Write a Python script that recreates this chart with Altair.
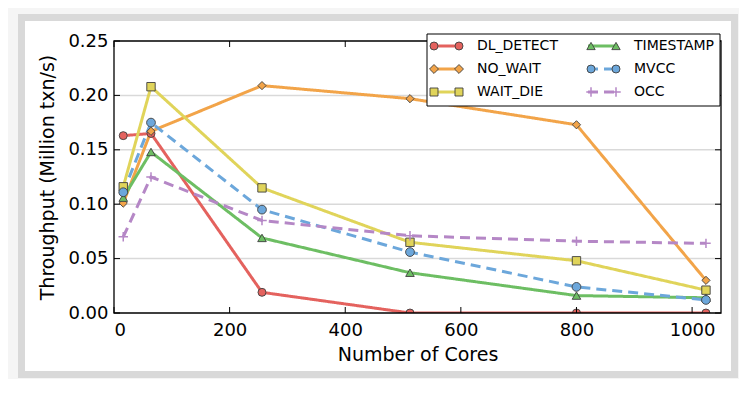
import altair as alt
import pandas as pd

# ---------------- data ----------------
cores = [16, 64, 256, 512, 800, 1024]
series_names = ["DL_DETECT", "NO_WAIT", "WAIT_DIE", "TIMESTAMP", "MVCC", "OCC"]
dl_detect = [0.163, 0.165, 0.019, 0.0, 0.0, 0.0]
no_wait = [0.101, 0.167, 0.209, 0.197, 0.173, 0.030]
wait_die = [0.116, 0.208, 0.115, 0.065, 0.048, 0.021]
timestamp = [0.106, 0.148, 0.069, 0.037, 0.016, 0.014]
mvcc = [0.111, 0.175, 0.095, 0.056, 0.024, 0.012]
occ = [0.070, 0.125, 0.085, 0.071, 0.066, 0.064]
x_ticks = [0, 200, 400, 600, 800, 1000]
y_ticks = [0.0, 0.05, 0.10, 0.15, 0.20, 0.25]
grid_vals = [0.05, 0.10, 0.15, 0.20]

# ---------------- styles ----------------
colors = ["#E4625E", "#F2A449", "#E0D45A", "#6DBE63", "#6CA7DB", "#B587C6"]
PLUS = "M-1,0L1,0M0,-1L0,1"
shapes = ["circle", "diamond", "square", "triangle-up", "circle", PLUS]
sizes = [64, 80, 64, 70, 64, 90]
dashes = [[1, 0], [1, 0], [1, 0], [1, 0], [10, 6], [10, 6]]
EDGE = "#404040"
FONT = "DejaVu Sans"

W, H = 607, 272

values = [dl_detect, no_wait, wait_die, timestamp, mvcc, occ]
rows = []
for name, vals in zip(series_names, values):
    for c, v in zip(cores, vals):
        rows.append({"series": name, "cores": c, "tput": v})
df = pd.DataFrame(rows)

xs = alt.Scale(domain=[0, 1050], nice=False, zero=False)
ys = alt.Scale(domain=[0, 0.25], nice=False, zero=False)
x_axis = alt.Axis(values=x_ticks, title="Number of Cores", format="d",
                  labelPadding=8, titlePadding=6, ticks=False, tickSize=0,
                  domain=False, grid=False, zindex=2)
y_axis = alt.Axis(values=y_ticks, title="Throughput (Million txn/s)", format=".2f",
                  labelPadding=6, titlePadding=10, ticks=False, tickSize=0,
                  domain=False, grid=False, zindex=2)

one = pd.DataFrame({"a": [0]})

# frame (decoration)
frame = alt.Chart(one).mark_rect(fill="white", stroke="#d9d9d9", strokeWidth=7).encode(
    x=alt.value(-92.5), x2=alt.value(620.5), y=alt.value(-23.5), y2=alt.value(333.5)
)

grid = alt.Chart(pd.DataFrame({"v": grid_vals})).mark_rule(
    color="#d9d9d9", strokeWidth=1.5
).encode(y=alt.Y("v:Q", scale=ys, axis=y_axis))

color_scale = alt.Scale(domain=series_names, range=colors)

lines = alt.Chart(df).mark_line(strokeWidth=3, clip=True).encode(
    x=alt.X("cores:Q", scale=xs, axis=x_axis),
    y=alt.Y("tput:Q", scale=ys, axis=y_axis),
    color=alt.Color("series:N", scale=color_scale, legend=None),
    strokeDash=alt.StrokeDash("series:N", scale=alt.Scale(domain=series_names, range=dashes), legend=None),
)

pts = alt.Chart(df[df.series != "OCC"]).mark_point(
    filled=True, stroke=EDGE, strokeWidth=0.9, opacity=1, clip=True
).encode(
    x=alt.X("cores:Q", scale=xs, axis=x_axis),
    y=alt.Y("tput:Q", scale=ys, axis=y_axis),
    fill=alt.Fill("series:N", scale=color_scale, legend=None),
    shape=alt.Shape("series:N", scale=alt.Scale(domain=series_names, range=shapes), legend=None),
    size=alt.Size("series:N", scale=alt.Scale(domain=series_names, range=sizes), legend=None),
)

occ_pts = alt.Chart(df[df.series == "OCC"]).mark_point(
    shape=PLUS, filled=False, color=colors[5], strokeWidth=1.5, size=90, opacity=1, clip=True
).encode(
    x=alt.X("cores:Q", scale=xs, axis=x_axis),
    y=alt.Y("tput:Q", scale=ys, axis=y_axis),
)

# inward ticks on all four sides
xt = pd.DataFrame({"v": x_ticks})
yt = pd.DataFrame({"v": y_ticks})
tick_style = dict(color="black", strokeWidth=1)
tb = alt.Chart(xt).mark_rule(**tick_style).encode(
    x=alt.X("v:Q", scale=xs, axis=x_axis), y=alt.value(H), y2=alt.value(H - 6))
tt = alt.Chart(xt).mark_rule(**tick_style).encode(
    x=alt.X("v:Q", scale=xs, axis=x_axis), y=alt.value(0), y2=alt.value(6))
tl = alt.Chart(yt).mark_rule(**tick_style).encode(
    y=alt.Y("v:Q", scale=ys, axis=y_axis), x=alt.value(0), x2=alt.value(6))
tr = alt.Chart(yt).mark_rule(**tick_style).encode(
    y=alt.Y("v:Q", scale=ys, axis=y_axis), x=alt.value(W), x2=alt.value(W - 6))

# spines
spine = alt.Chart(one).mark_rect(fill="transparent", stroke="black", strokeWidth=1.3).encode(
    x=alt.value(0), x2=alt.value(W), y=alt.value(0), y2=alt.value(H))

# manual legend (matplotlib style: line with two markers)
legend_layers = [
    alt.Chart(one).mark_rect(fill="white", stroke="black", strokeWidth=1).encode(
        x=alt.value(313), x2=alt.value(606), y=alt.value(-7), y2=alt.value(65))
]
for i, name in enumerate(series_names):
    col, row = i // 3, i % 3
    ly = 5 + row * 23
    lx0 = 317 + col * 157
    lx1 = lx0 + 30
    legend_layers.append(
        alt.Chart(one).mark_rule(color=colors[i], strokeWidth=3, strokeDash=dashes[i]).encode(
            x=alt.value(lx0), x2=alt.value(lx1), y=alt.value(ly)))
    for mx in (lx0 + 3, lx1 - 2):
        if shapes[i] == PLUS:
            mk = alt.Chart(one).mark_point(shape=PLUS, filled=False, color=colors[i],
                                           strokeWidth=1.5, size=sizes[i], opacity=1)
        else:
            mk = alt.Chart(one).mark_point(shape=shapes[i], filled=True, fill=colors[i],
                                           stroke=EDGE, strokeWidth=0.9, size=sizes[i], opacity=1)
        legend_layers.append(mk.encode(x=alt.value(mx), y=alt.value(ly)))
    legend_layers.append(
        alt.Chart(one).mark_text(align="left", baseline="middle", font=FONT, fontSize=14,
                                 color="black").encode(
            x=alt.value(lx1 + 16), y=alt.value(ly), text=alt.value(name)))

chart = alt.layer(
    frame, grid, lines, pts, occ_pts, tb, tt, tl, tr, spine, *legend_layers
).properties(
    width=W, height=H,
    autosize=alt.AutoSizeParams(type="none"),
    padding={"left": 106, "top": 33, "right": 18, "bottom": 66},
    background="#f5f5f5",
).configure_view(
    stroke=None
).configure_axis(
    labelFont=FONT, titleFont=FONT, labelFontSize=18, titleFontSize=19,
    titleFontWeight="normal", labelColor="black", titleColor="black",
)

chart.save("out.html", embed_options={"renderer": "svg", "actions": False})
